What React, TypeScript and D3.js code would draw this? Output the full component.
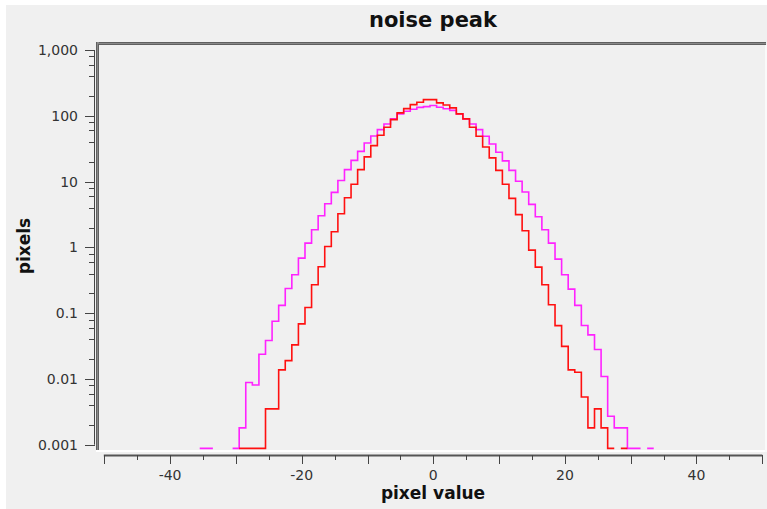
import React from "react";
import * as d3 from "d3";

const bins = [
  -35, -34, -33, -32, -31, -30, -29, -28, -27, -26, -25, -24, -23, -22, -21, -20, -19, -18, -17, -16,
  -15, -14, -13, -12, -11, -10, -9, -8, -7, -6, -5, -4, -3, -2, -1, 0, 1, 2, 3, 4,
  5, 6, 7, 8, 9, 10, 11, 12, 13, 14, 15, 16, 17, 18, 19, 20, 21, 22, 23, 24,
  25, 26, 27, 28, 29, 30, 31, 32, 33,
];

const magentaValues = [
  0.00088, 0.00088, 0, 0, 0, 0.00088, 0.0018, 0.0088, 0.0081, 0.0237, 0.0383, 0.0754, 0.131, 0.237, 0.383, 0.687, 1.16, 1.85, 3.03, 4.61,
  6.86, 10.4, 15.2, 21.0, 28.8, 38.6, 49.3, 61.7, 75.2, 90, 107, 117, 126, 134, 138, 143, 135, 128, 121, 107,
  89.6, 75.2, 61.7, 48.8, 37.3, 27.9, 20.6, 14.8, 10.1, 6.94, 4.5, 2.92, 1.85, 1.16, 0.663, 0.383, 0.232, 0.131, 0.0648, 0.0467,
  0.028, 0.0109, 0.0027, 0.0018, 0.0018, 0.00088, 0.00088, 0, 0.00088,
];

const redValues = [
  0, 0, 0, 0, 0, 0, 0.00088, 0.00088, 0.00088, 0.00088, 0.0035, 0.0035, 0.0137, 0.019, 0.0329, 0.0687, 0.122, 0.27, 0.507, 1.03,
  1.73, 3.25, 5.69, 9.08, 15.2, 23.7, 35.2, 50.5, 66.9, 87.5, 110.6, 128.7, 148, 161, 176, 176, 157, 146, 132, 107,
  89.6, 66.9, 48.8, 33.6, 22.9, 14.8, 9.08, 5.56, 3.14, 1.79, 0.909, 0.501, 0.27, 0.134, 0.0645, 0.0312, 0.0137, 0.0126, 0.0053, 0.0018,
  0.0035, 0.0018, 0.00088, 0, 0.00088, 0, 0, 0, 0,
];

const yTickValues = [1000, 100, 10, 1, 0.1, 0.01, 0.001];
const yTickLabels = ["1,000", "100", "10", "1", "0.1", "0.01", "0.001"];
const xMajorTicks = [-50, -40, -30, -20, -10, 0, 10, 20, 30, 40, 50];
const xMinorTicks = [-45, -35, -25, -15, -5, 5, 15, 25, 35, 45];
const xLabelTicks = [-40, -20, 0, 20, 40];
const yMinorMultipliers = [2, 4, 6, 8];

const W = 767;
const H = 509;
const FONT = "DejaVu Sans, sans-serif";

export default function App() {
  const x = d3.scaleLinear().domain([-50, 50]).range([104.3, 762.3]);
  const y = d3.scaleLog().domain([0.001, 1000]).range([444.7, 50]);

  const panel = { x0: 96, y0: 42, x1: 766, y1: 452 };

  const makePath = (vals: number[]) => {
    const pts: { x: number; v: number }[] = [];
    bins.forEach((b, i) => {
      pts.push({ x: b - 0.5, v: vals[i] });
      pts.push({ x: b + 0.5, v: vals[i] });
    });
    const line = d3
      .line<{ x: number; v: number }>()
      .defined((d) => d.v > 0)
      .x((d) => x(d.x))
      .y((d) => y(d.v));
    return line(pts) || "";
  };

  const yMinor: number[] = [];
  [0.001, 0.01, 0.1, 1, 10, 100].forEach((dec) => {
    yMinorMultipliers.forEach((m) => yMinor.push(dec * m));
  });

  const axisColor = "#444";

  return (
    <div style={{ position: "absolute", left: 0, top: 0 }}>
      <svg width={W} height={H} style={{ display: "block" }}>
        <rect x={0} y={0} width={W} height={H} fill="#ffffff" />
        <rect x={6} y={5} width={W - 6} height={H - 5} fill="#f0f0f0" />
        <defs>
          <clipPath id="plotclip">
            <rect x={panel.x0 + 3} y={panel.y0 + 3} width={panel.x1 - panel.x0 - 4} height={panel.y1 - panel.y0 - 5} />
          </clipPath>
        </defs>

        {/* sunken panel border */}
        <rect x={panel.x0} y={panel.y0} width={panel.x1 - panel.x0} height={3} fill="#8a8a8a" />
        <line x1={panel.x0} x2={panel.x1} y1={panel.y0 + 0.5} y2={panel.y0 + 0.5} stroke="#606060" />
        <line x1={panel.x0 + 2} x2={panel.x1} y1={panel.y0 + 2.5} y2={panel.y0 + 2.5} stroke="#606060" />
        <rect x={panel.x0} y={panel.y0} width={3} height={panel.y1 - panel.y0 - 2} fill="#8a8a8a" />
        <line x1={panel.x0 + 0.5} x2={panel.x0 + 0.5} y1={panel.y0} y2={panel.y1 - 2} stroke="#606060" />
        <line x1={panel.x0 + 2.5} x2={panel.x0 + 2.5} y1={panel.y0 + 2} y2={panel.y1 - 2} stroke="#606060" />
        <rect x={panel.x0} y={panel.y1 - 2} width={panel.x1 - panel.x0 + 1} height={2} fill="#ffffff" />
        <rect x={panel.x1 - 1} y={panel.y0 + 3} width={2} height={panel.y1 - panel.y0 - 3} fill="#fafafa" />

        {/* histograms */}
        <g clipPath="url(#plotclip)" fill="none" strokeLinejoin="miter">
          <path d={makePath(magentaValues)} stroke="#ff22ff" strokeWidth={1.6} />
          <path d={makePath(redValues)} stroke="#ff1010" strokeWidth={1.6} />
        </g>

        {/* y axis */}
        <line x1={94.5} x2={94.5} y1={y(1000)} y2={y(0.001)} stroke={axisColor} strokeWidth={1} />
        {yTickValues.map((v) => (
          <line key={"ymaj" + v} x1={85} x2={95} y1={Math.round(y(v)) + 0.5} y2={Math.round(y(v)) + 0.5} stroke={axisColor} strokeWidth={1} />
        ))}
        {yMinor.map((v, i) => (
          <line key={"ymin" + i} x1={89} x2={95} y1={Math.round(y(v)) + 0.5} y2={Math.round(y(v)) + 0.5} stroke={axisColor} strokeWidth={1} />
        ))}
        {yTickValues.map((v, i) => (
          <text key={"ylab" + v} x={78} y={y(v)} dy="0.36em" textAnchor="end" fontFamily={FONT} fontSize={14} fill="#333">
            {yTickLabels[i]}
          </text>
        ))}

        {/* x axis */}
        <line x1={x(-50) - 0.5} x2={x(50)} y1={455.5} y2={455.5} stroke="#555" strokeWidth={2} />
        {xMajorTicks.map((t) => (
          <line key={"xmaj" + t} x1={Math.round(x(t)) + 0.5} x2={Math.round(x(t)) + 0.5} y1={455} y2={464} stroke={axisColor} strokeWidth={1} />
        ))}
        {xMinorTicks.map((t) => (
          <line key={"xmin" + t} x1={Math.round(x(t)) + 0.5} x2={Math.round(x(t)) + 0.5} y1={455} y2={460} stroke={axisColor} strokeWidth={1} />
        ))}
        {xLabelTicks.map((t) => (
          <text key={"xlab" + t} x={x(t)} y={480} textAnchor="middle" fontFamily={FONT} fontSize={14} fill="#333">
            {String(t)}
          </text>
        ))}

        {/* titles */}
        <text x={433} y={27} textAnchor="middle" fontFamily={FONT} fontWeight="bold" fontSize={21} fill="#111">
          noise peak
        </text>
        <text x={433} y={499} textAnchor="middle" fontFamily={FONT} fontWeight="bold" fontSize={17} fill="#111">
          pixel value
        </text>
        <text
          transform={`translate(30,246) rotate(-90)`}
          textAnchor="middle"
          fontFamily={FONT}
          fontWeight="bold"
          fontSize={17}
          fill="#111"
        >
          pixels
        </text>
      </svg>
    </div>
  );
}
